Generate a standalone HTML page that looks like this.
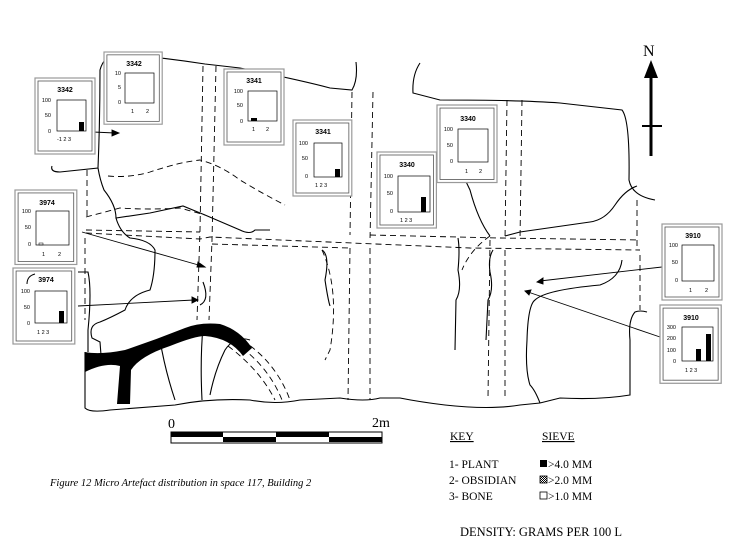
<!DOCTYPE html>
<html><head><meta charset="utf-8"><style>
html,body{margin:0;padding:0;background:#fff;}
svg{display:block;}
.t{font-family:"Liberation Sans",sans-serif;font-weight:bold;font-size:7px;text-anchor:middle;}
.s{font-family:"Liberation Sans",sans-serif;font-size:5.5px;}
.sr{font-family:"Liberation Serif",serif;}
</style></head><body>
<svg width="730" height="544" viewBox="0 0 730 544" xmlns="http://www.w3.org/2000/svg">
<defs>
<g id="frame"><rect x="0" y="0" width="60" height="76" fill="#fff" stroke="#999" stroke-width="1.2"/><rect x="3" y="3" width="54" height="70" fill="none" stroke="#555" stroke-width="0.8"/></g>
<pattern id="chk" width="2" height="2" patternUnits="userSpaceOnUse"><rect width="2" height="2" fill="#fff"/><rect width="1" height="1" fill="#000"/><rect x="1" y="1" width="1" height="1" fill="#000"/></pattern>
</defs>

<g fill="none" stroke="#000" stroke-width="1.1">
<path d="M52,166 Q50,172 60,172 L98,168 Q100,120 100,70 Q104,55 118,54 Q160,57 205,64 L240,68 Q300,80 330,88 L352,90 Q358,80 356,62"/>
<path d="M420,63 Q412,75 413,93 L440,100 Q520,100 560,103 L622,110 Q630,120 629,180 Q632,196 655,200"/>
<path d="M637,186 Q625,190 615,205 Q605,220 590,222 L520,232 L505,236"/>
<path d="M98,168 Q100,180 104,190 Q116,205 116,218 L150,213 L183,206 L205,215 L240,230 Q250,235 255,230 L270,230"/>
<path d="M116,218 Q120,232 130,238 Q150,240 155,250 Q155,275 150,290 Q130,295 125,310 Q110,318 100,322 Q88,325 92,338 L100,342 L101,355"/>
<path d="M78,272 L88,272 Q92,290 88,330 L88,352"/>
<path d="M85,352 L85,408 Q90,413 110,410 L175,405 Q210,398 250,400 Q275,405 300,400 L340,398 Q365,402 380,398 L400,398 Q420,402 445,405 Q490,410 520,405 L540,403"/>
<path d="M540,403 Q535,390 530,385 Q525,370 527,340 Q528,305 535,300 Q545,290 600,285 Q620,278 622,260"/>
<path d="M647,312 Q640,310 635,312 Q628,320 630,340 L630,395 Q600,400 560,398 L540,403"/>
<path d="M322,250 Q330,255 325,280 Q328,300 330,306"/>
<path d="M203,282 Q210,300 200,305"/>
<path d="M160,340 Q165,370 175,400"/>
<path d="M203,327 Q200,360 202,400"/>
<path d="M250,340 Q235,335 225,350 Q215,370 210,395"/>
<path d="M458,238 Q460,250 458,270 Q462,290 456,300 L455,350"/>
<path d="M493,250 Q488,258 490,272 Q494,290 488,300 L486,340"/>
<path d="M447,106 Q450,150 470,190 Q478,220 490,236"/>
</g>

<path d="M85,352 L85,372 Q105,362 120,366 L117,404 L130,404 L131,370 Q140,356 170,346 Q195,336 205,336 Q230,338 243,356 L252,348 Q240,330 220,324 Q200,322 185,328 Q155,340 125,350 Q100,355 85,352 Z" fill="#000"/>

<g fill="none" stroke="#000" stroke-width="0.9" stroke-dasharray="6,4">
<path d="M87,170 L87,218"/>
<path d="M203,66 L200,230 L197,320"/>
<path d="M216,66 L212,240 L209,320"/>
<path d="M352,92 L350,235"/>
<path d="M373,92 L370,240"/>
<path d="M507,100 L505,240"/>
<path d="M522,100 L520,240"/>
<path d="M637,200 L637,250"/>
<path d="M86,217 L120,208 Q150,210 180,208 L205,215"/>
<path d="M108,176 Q130,178 150,172 Q180,162 200,160 Q220,165 240,180 Q265,195 285,205"/>
<path d="M86,233 L200,239 L210,237 L352,243 L470,248 L640,250"/>
<path d="M86,230 L200,232"/>
<path d="M212,244 L350,248"/>
<path d="M370,235 L500,238 L640,240"/>
<path d="M85,238 L85,320"/>
<path d="M350,248 L348,400"/>
<path d="M370,248 L370,400"/>
<path d="M490,240 L488,398"/>
<path d="M505,250 L505,398"/>
<path d="M640,255 L640,310"/>
<path d="M228,346 Q260,370 275,400"/>
<path d="M234,342 Q268,365 282,400"/>
<path d="M242,340 Q276,362 290,400"/>
<path d="M490,236 Q470,250 462,270"/>
<path d="M322,250 Q340,290 330,350 L325,360"/>
</g>

<g stroke="#000" stroke-width="0.9" fill="#000">
<line x1="93" y1="132" x2="115" y2="133"/><path d="M119,133 L112,130 L112,136Z"/>
<line x1="82" y1="232" x2="202" y2="266"/><path d="M205,267 L198,262 L197,267Z" />
<line x1="78" y1="306" x2="194" y2="300"/><path d="M198,300 L192,297 L192,303Z"/>
<line x1="662" y1="267" x2="540" y2="281"/><path d="M537,282 L543,278 L543,284Z"/>
<line x1="660" y1="337" x2="528" y2="292"/><path d="M525,291 L531,290 L529,295Z"/>
</g>

<text x="643" y="56" class="sr" font-size="16">N</text>
<line x1="651" y1="70" x2="651" y2="156" stroke="#000" stroke-width="3"/>
<path d="M651,60 L644,78 L658,78 Z" fill="#000"/>
<line x1="642" y1="126" x2="662" y2="126" stroke="#000" stroke-width="2"/>

<g transform="translate(35,78)"><use href="#frame"/><text x="30" y="14" class="t">3342</text>
<rect x="22" y="22" width="29" height="31" fill="none" stroke="#000" stroke-width="0.7"/>
<text x="16" y="24" class="s" text-anchor="end">100</text><text x="16" y="39" class="s" text-anchor="end">50</text><text x="16" y="55" class="s" text-anchor="end">0</text>
<rect x="44" y="44" width="5" height="9" fill="#000"/><text x="22" y="63" class="s">-1  2  3</text></g>
<g transform="translate(104,52)"><use href="#frame" transform="scale(0.97,0.95)"/><text x="30" y="14" class="t">3342</text>
<rect x="21" y="21" width="29" height="30" fill="none" stroke="#000" stroke-width="0.7"/>
<text x="17" y="23" class="s" text-anchor="end">10</text><text x="17" y="37" class="s" text-anchor="end">5</text><text x="17" y="52" class="s" text-anchor="end">0</text>
<text x="27" y="61" class="s">1</text><text x="42" y="61" class="s">2</text></g>
<g transform="translate(224,69)"><use href="#frame"/><text x="30" y="14" class="t">3341</text>
<rect x="24" y="22" width="29" height="30" fill="none" stroke="#000" stroke-width="0.7"/>
<text x="19" y="24" class="s" text-anchor="end">100</text><text x="19" y="38" class="s" text-anchor="end">50</text><text x="19" y="54" class="s" text-anchor="end">0</text>
<rect x="27" y="49" width="6" height="3" fill="#000"/><text x="28" y="62" class="s">1</text><text x="42" y="62" class="s">2</text></g>
<g transform="translate(293,120)"><use href="#frame" transform="scale(0.98,1)"/><text x="30" y="14" class="t">3341</text>
<rect x="21" y="23" width="28" height="34" fill="none" stroke="#000" stroke-width="0.7"/>
<text x="15" y="25" class="s" text-anchor="end">100</text><text x="15" y="40" class="s" text-anchor="end">50</text><text x="15" y="58" class="s" text-anchor="end">0</text>
<rect x="42" y="49" width="5" height="8" fill="#000"/><text x="22" y="67" class="s">1  2  3</text></g>
<g transform="translate(437,105)"><use href="#frame" transform="scale(1,1.02)"/><text x="31" y="16" class="t">3340</text>
<rect x="21" y="24" width="30" height="33" fill="none" stroke="#000" stroke-width="0.7"/>
<text x="16" y="26" class="s" text-anchor="end">100</text><text x="16" y="42" class="s" text-anchor="end">50</text><text x="16" y="58" class="s" text-anchor="end">0</text>
<text x="28" y="68" class="s">1</text><text x="42" y="68" class="s">2</text></g>
<g transform="translate(377,152)"><use href="#frame" transform="scale(0.99,1.0)"/><text x="30" y="15" class="t">3340</text>
<rect x="21" y="24" width="32" height="36" fill="none" stroke="#000" stroke-width="0.7"/>
<text x="16" y="26" class="s" text-anchor="end">100</text><text x="16" y="43" class="s" text-anchor="end">50</text><text x="16" y="61" class="s" text-anchor="end">0</text>
<rect x="44" y="45" width="5" height="15" fill="#000"/><text x="23" y="70" class="s">1  2  3</text></g>
<g transform="translate(15,190)"><use href="#frame" transform="scale(1.03,0.98)"/><text x="32" y="15" class="t">3974</text>
<rect x="21" y="21" width="33" height="34" fill="none" stroke="#000" stroke-width="0.7"/>
<text x="16" y="23" class="s" text-anchor="end">100</text><text x="16" y="39" class="s" text-anchor="end">50</text><text x="16" y="56" class="s" text-anchor="end">0</text>
<rect x="24" y="53" width="4" height="2" fill="none" stroke="#000" stroke-width="0.5"/><text x="27" y="66" class="s">1</text><text x="43" y="66" class="s">2</text></g>
<g transform="translate(13,268)"><use href="#frame" transform="scale(1.03,1)"/>
<path d="M14,16 Q14,8 22,6" fill="none" stroke="#000" stroke-width="1"/>
<text x="33" y="14" class="t">3974</text>
<rect x="22" y="23" width="32" height="32" fill="none" stroke="#000" stroke-width="0.7"/>
<text x="17" y="25" class="s" text-anchor="end">100</text><text x="17" y="41" class="s" text-anchor="end">50</text><text x="17" y="57" class="s" text-anchor="end">0</text>
<rect x="46" y="43" width="5" height="12" fill="#000"/><text x="24" y="66" class="s">1  2  3</text></g>
<g transform="translate(662,224)"><use href="#frame"/><text x="31" y="14" class="t">3910</text>
<rect x="20" y="21" width="32" height="36" fill="none" stroke="#000" stroke-width="0.7"/>
<text x="16" y="23" class="s" text-anchor="end">100</text><text x="16" y="40" class="s" text-anchor="end">50</text><text x="16" y="58" class="s" text-anchor="end">0</text>
<text x="27" y="68" class="s">1</text><text x="43" y="68" class="s">2</text></g>
<g transform="translate(660,305)"><use href="#frame" transform="scale(1.02,1.03)"/><text x="31" y="15" class="t">3910</text>
<rect x="22" y="22" width="31" height="34" fill="none" stroke="#000" stroke-width="0.7"/>
<text x="16" y="24" class="s" text-anchor="end">300</text><text x="16" y="35" class="s" text-anchor="end">200</text><text x="16" y="47" class="s" text-anchor="end">100</text><text x="16" y="58" class="s" text-anchor="end">0</text>
<rect x="36" y="44" width="5" height="12" fill="#000"/><rect x="46" y="29" width="5" height="27" fill="#000"/><text x="25" y="67" class="s">1  2  3</text></g>

<text x="168" y="428" class="sr" font-size="14">0</text>
<text x="372" y="427" class="sr" font-size="14">2m</text>
<rect x="171" y="432" width="211" height="11" fill="#fff" stroke="#000" stroke-width="1"/>
<rect x="171" y="432" width="52" height="5" fill="#000"/><rect x="223" y="437" width="53" height="5" fill="#000"/>
<rect x="276" y="432" width="53" height="5" fill="#000"/><rect x="329" y="437" width="53" height="5" fill="#000"/>

<text x="50" y="486" class="sr" font-size="10.5" font-style="italic">Figure 12  Micro Artefact distribution in space 117, Building 2</text>

<g class="sr" font-size="11.5">
<text x="450" y="440" text-decoration="underline">KEY</text>
<text x="542" y="440" text-decoration="underline">SIEVE</text>
<text x="449" y="468">1- PLANT</text>
<text x="449" y="484">2- OBSIDIAN</text>
<text x="449" y="500">3- BONE</text>
<rect x="540" y="460" width="7" height="7" fill="#000"/><text x="548" y="468">&gt;4.0 MM</text>
<rect x="540" y="476" width="7" height="7" fill="url(#chk)" stroke="#000" stroke-width="0.8"/><text x="548" y="484">&gt;2.0 MM</text>
<rect x="540" y="492" width="7" height="7" fill="#fff" stroke="#000" stroke-width="0.8"/><text x="548" y="500">&gt;1.0 MM</text>
<text x="460" y="536" font-size="12.5">DENSITY: GRAMS PER 100 L</text>
</g>
</svg>
</body></html>
